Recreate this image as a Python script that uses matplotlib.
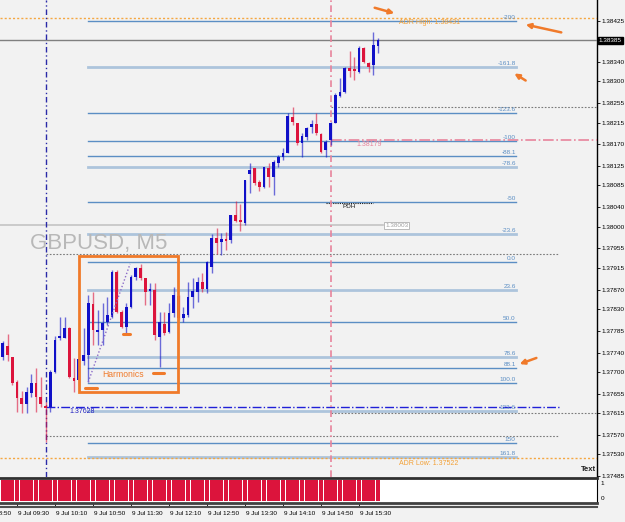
import numpy as np
import matplotlib.pyplot as plt
from matplotlib.patches import Rectangle, FancyArrowPatch
from matplotlib.lines import Line2D
from matplotlib.transforms import blended_transform_factory

plt.rcParams['font.family'] = ['Liberation Sans Narrow', 'Liberation Sans', 'DejaVu Sans']

# GBPUSD M5 candles, 9 Jul 09:15 .. 15:50 (bar index 0 = 09:30)
first_bar = -3
opens = [1.37731, 1.37753, 1.37731, 1.37679, 1.37646, 1.37633, 1.37656, 1.37677, 1.37648, 1.37629,
         1.37627, 1.37699, 1.37770, 1.37770, 1.37790, 1.37687, 1.37683, 1.37722, 1.37735, 1.37840,
         1.37782, 1.37786, 1.37803, 1.37813, 1.37906, 1.37823, 1.37792, 1.37834, 1.37896, 1.37914,
         1.37894, 1.37867, 1.37869, 1.37772, 1.37799, 1.37782, 1.37821, 1.37856, 1.37811, 1.37817,
         1.37854, 1.37865, 1.37885, 1.37871, 1.37917, 1.37976, 1.37968, 1.37974, 1.37972, 1.38024,
         1.38014, 1.38007, 1.38109, 1.38121, 1.38092, 1.38082, 1.38121, 1.38102, 1.38131, 1.38144,
         1.38152, 1.38226, 1.38214, 1.38173, 1.38185, 1.38206, 1.38212, 1.38191, 1.38158, 1.38179,
         1.38214, 1.38270, 1.38278, 1.38328, 1.38325, 1.38319, 1.38369, 1.38338, 1.38334, 1.38373]
highs = [1.37764, 1.37778, 1.37731, 1.37683, 1.37660, 1.37669, 1.37695, 1.37708, 1.37689, 1.37637,
         1.37704, 1.37774, 1.37813, 1.37813, 1.37792, 1.37728, 1.37786, 1.37790, 1.37859, 1.37865,
         1.37828, 1.37842, 1.37854, 1.37910, 1.37910, 1.37828, 1.37842, 1.37900, 1.37917, 1.37923,
         1.37894, 1.37883, 1.37883, 1.37823, 1.37823, 1.37842, 1.37875, 1.37859, 1.37834, 1.37885,
         1.37894, 1.37896, 1.37904, 1.37929, 1.37985, 1.37997, 1.37987, 1.37989, 1.38024, 1.38053,
         1.38047, 1.38096, 1.38131, 1.38121, 1.38096, 1.38123, 1.38131, 1.38137, 1.38148, 1.38162,
         1.38235, 1.38247, 1.38214, 1.38193, 1.38206, 1.38220, 1.38235, 1.38193, 1.38179, 1.38216,
         1.38276, 1.38307, 1.38330, 1.38363, 1.38350, 1.38373, 1.38371, 1.38340, 1.38402, 1.38390]
lows = [1.37724, 1.37722, 1.37673, 1.37617, 1.37615, 1.37615, 1.37648, 1.37617, 1.37627, 1.37555,
        1.37617, 1.37697, 1.37766, 1.37770, 1.37687, 1.37658, 1.37673, 1.37714, 1.37679, 1.37755,
        1.37755, 1.37755, 1.37797, 1.37811, 1.37821, 1.37790, 1.37780, 1.37832, 1.37890, 1.37890,
        1.37838, 1.37838, 1.37766, 1.37710, 1.37776, 1.37780, 1.37813, 1.37807, 1.37803, 1.37813,
        1.37832, 1.37844, 1.37865, 1.37863, 1.37904, 1.37943, 1.37941, 1.37952, 1.37966, 1.38009,
        1.37991, 1.38003, 1.38069, 1.38086, 1.38073, 1.38080, 1.38082, 1.38065, 1.38123, 1.38137,
        1.38152, 1.38210, 1.38168, 1.38144, 1.38179, 1.38193, 1.38189, 1.38152, 1.38144, 1.38168,
        1.38214, 1.38268, 1.38276, 1.38309, 1.38303, 1.38317, 1.38338, 1.38319, 1.38313, 1.38359]
closes = [1.37759, 1.37735, 1.37677, 1.37646, 1.37633, 1.37658, 1.37677, 1.37648, 1.37633, 1.37625,
          1.37699, 1.37766, 1.37774, 1.37790, 1.37689, 1.37681, 1.37726, 1.37735, 1.37842, 1.37786,
          1.37786, 1.37801, 1.37817, 1.37906, 1.37823, 1.37792, 1.37834, 1.37896, 1.37914, 1.37894,
          1.37865, 1.37871, 1.37776, 1.37803, 1.37780, 1.37821, 1.37859, 1.37811, 1.37819, 1.37854,
          1.37867, 1.37885, 1.37871, 1.37927, 1.37976, 1.37966, 1.37974, 1.37970, 1.38024, 1.38011,
          1.38009, 1.38096, 1.38117, 1.38090, 1.38082, 1.38123, 1.38102, 1.38133, 1.38144, 1.38152,
          1.38228, 1.38216, 1.38173, 1.38187, 1.38204, 1.38212, 1.38193, 1.38154, 1.38175, 1.38214,
          1.38272, 1.38278, 1.38328, 1.38321, 1.38321, 1.38369, 1.38340, 1.38330, 1.38375, 1.38385]

# bottom indicator histogram (one value per bar)
signal = [1, 1, 1, 1, 1, 1, 1, 1, 1, 1, 1, 1, 1, 1, 1, 1, 1, 1, 1, 1,
          1, 1, 1, 1, 1, 1, 1, 1, 1, 1, 1, 1, 1, 1, 1, 1, 1, 1, 1, 1,
          1, 1, 1, 1, 1, 1, 1, 1, 1, 1, 1, 1, 1, 1, 1, 1, 1, 1, 1, 1,
          1, 1, 1, 1, 1, 1, 1, 1, 1, 1, 1, 1, 1, 1, 1, 1, 1, 1, 1, 1]

time_ticks = [-8, 0, 8, 16, 24, 32, 40, 48, 56, 64, 72]
time_labels = ["9 Jul 08:50", "9 Jul 09:30", "9 Jul 10:10", "9 Jul 10:50", "9 Jul 11:30",
               "9 Jul 12:10", "9 Jul 12:50", "9 Jul 13:30", "9 Jul 14:10", "9 Jul 14:50",
               "9 Jul 15:30"]

price_ticks = [1.38425, 1.38340, 1.38300, 1.38255, 1.38215, 1.38170, 1.38125, 1.38085,
               1.38040, 1.38000, 1.37955, 1.37915, 1.37870, 1.37830, 1.37785, 1.37740,
               1.37700, 1.37655, 1.37615, 1.37570, 1.37530, 1.37485]
last_price = 1.38385

# fibonacci grid
fib_levels = [-200, -161.8, -123.6, -100, -88.1, -78.6, -50, -23.6, 0, 23.6, 50, 78.6,
              88.1, 100, 123.6, 150, 161.8]
fib_labels = ["-200", "-161.8", "-123.6", "-100", "-88.1", "-78.6", "-50", "-23.6", "0.0",
              "23.6", "50.0", "78.6", "88.1", "100.0", "123.6", "150", "161.8"]
fib_light = [-161.8, -78.6, -23.6, 23.6, 78.6, 123.6, 161.8]
fib_zero = 1.37927
fib_hundred = 1.37678

adr_high = 1.38431
adr_low = 1.37522
day_low = 1.37628
pink_level = 1.38179
box_level = 1.38003
pdh = 1.38049
dotted_left = [1.37943, 1.37568]
dotted_right = [1.38247, 1.37615]

W, H = 625, 522
BG = '#f2f2f2'
BLUE = '#1010c8'
RED = '#dc143c'
FIB = '#5b8ec4'
FIB_LIGHT = '#adc4dc'
ORANGE = '#f07a2a'
X0, X1 = -3.58, 122.1

fig = plt.figure(figsize=(W / 100, H / 100), dpi=100, facecolor=BG)
ax = fig.add_axes([0, 45 / H, 597 / W, 477 / H], facecolor=BG)
ax.set_xlim(X0, X1)
ax.set_ylim(1.37483, 1.38468)

x = np.arange(len(opens)) + first_bar
o = np.array(opens)
c = np.array(closes)
cols = np.where(c >= o, BLUE, RED)

# candles
ax.vlines(x, lows, highs, colors=cols, lw=1, alpha=0.6, zorder=4)
bot = np.minimum(o, c)
hgt = np.maximum(np.abs(c - o), 0.000025)
ax.bar(x, hgt, bottom=bot, width=0.62, color=cols, lw=0, zorder=5)

# fibonacci lines
fx0, fx1 = 15, 105
for lev, lab in zip(fib_levels, fib_labels):
    p = fib_zero - lev / 100 * (fib_zero - fib_hundred)
    if lev in fib_light:
        ax.plot([fx0, fx1], [p, p], color=FIB_LIGHT, lw=2, zorder=2)
    else:
        ax.plot([fx0, fx1], [p, p], color=FIB, lw=1, zorder=2)
    ax.text(fx1, p + 0.00002, lab, color=FIB, fontsize=4.6, ha='right', va='bottom', zorder=6)

# ADR lines
ax.axhline(adr_high, color='#f5a742', lw=1, ls=(0, (1.5, 1.5)), zorder=3)
ax.axhline(adr_low, color='#f5a742', lw=1, ls=(0, (1.5, 1.5)), zorder=3)
ax.text(80.5, adr_high - 0.00003, "ADR High: 1.38431", color='#f2a035', fontsize=5, va='top')
ax.text(80.5, adr_low - 0.00003, "ADR Low: 1.37522", color='#f2a035', fontsize=5, va='top')

# bid line
ax.axhline(last_price, color='#808080', lw=1, zorder=3)

# session / level lines
ax.plot([6, 114], [day_low, day_low], color='#2020d8', lw=1, ls='-.', zorder=3)
ax.text(11, day_low - 0.00002, "1.37628", color='#2020c0', fontsize=5, va='top')
for lv in dotted_left:
    ax.plot([6, 114], [lv, lv], color='#7a7a7a', lw=0.8, ls=(0, (1.5, 1.5)), zorder=3)
for lv in dotted_right:
    ax.plot([66, X1], [lv, lv], color='#7a7a7a', lw=0.8, ls=(0, (1.5, 1.5)), zorder=3)
ax.plot([66, X1], [pink_level, pink_level], color='#e8849c', lw=1.2, ls='-.', zorder=3)
ax.text(71.5, pink_level - 0.00003, "1.38179", color='#e8849c', fontsize=5, va='top')
ax.plot([X0, 77], [box_level, box_level], color='#c4c4c4', lw=1.2, zorder=3)
ax.text(77.5, box_level, "1.38003", color='#a0a0a0', fontsize=4.6, va='center',
        bbox=dict(facecolor='white', edgecolor='#b0b0b0', lw=0.6, pad=0.6))
ax.plot([65, 75], [pdh, pdh], color='#202020', lw=0.8, ls=(0, (1, 1)), zorder=3)
ax.text(70, pdh - 0.00002, "PDH", color='#202020', fontsize=4.6, ha='center', va='top')

# vertical session markers
ax.axvline(6, color='#2a2aa8', lw=1, ls=(0, (4, 2, 1, 2)), zorder=3)
ax.axvline(66, color='#e8849c', lw=1.2, ls=(0, (4, 2, 1, 2)), zorder=3)

# harmonics box
ax.add_patch(Rectangle((13.05, 1.37658), 20.85, 0.00281, fill=False, ec=ORANGE, lw=2, zorder=6))
ax.plot([15, 23.8], [1.37679, 1.37923], color='#8a6ac8', lw=1, ls=(0, (1, 1.5)), zorder=6)
ax.text(18, 1.37695, "Harmonics", color=ORANGE, fontsize=6.2, va='center',
        family=['Liberation Sans', 'DejaVu Sans'], zorder=7)
for xa, xb, pm in [(14.4, 16.8, 1.37666), (28.7, 30.9, 1.37697), (22.4, 23.8, 1.37778)]:
    ax.plot([xa, xb], [pm, pm], color=ORANGE, lw=2.2, solid_capstyle='round', zorder=7)

# watermark
fig.text(30 / W, 1 - 249 / H, "GBPUSD, M5", color='#b8b8b8', fontsize=16,
         family=['Liberation Sans', 'DejaVu Sans'], va='baseline')

# price axis on right
for s in ['top', 'left', 'bottom']:
    ax.spines[s].set_visible(False)
ax.spines['right'].set_color('black')
ax.spines['right'].set_linewidth(1)
ax.set_xticks([])
ax.yaxis.tick_right()
ax.set_yticks(price_ticks)
ax.set_yticklabels([f"{p:.5f}" for p in price_ticks])
ax.set_ylim(1.37483, 1.38468)
ax.tick_params(axis='y', labelsize=4.6, length=2, width=0.6, pad=1.5, colors='black')
tr = blended_transform_factory(ax.transAxes, ax.transData)
ax.text(1.003, last_price, f"{last_price:.5f}", transform=tr, color='white', fontsize=4.6,
        va='center', ha='left', bbox=dict(facecolor='black', edgecolor='black', pad=0.8),
        zorder=10, clip_on=False)
ax.text(0.999, 1.37492, "Text", transform=tr, fontsize=5.5, fontweight='bold', ha='right',
        va='bottom', color='#202020')

# orange arrows
def fpx(px, py):
    return (px / W, 1 - py / H)

for tail, head in [((372, 7), (397, 14)), ((564, 33), (523, 24)),
                   ((528, 82), (512, 72)), ((539, 357), (517, 365))]:
    fig.add_artist(FancyArrowPatch(fpx(*tail), fpx(*head), transform=fig.transFigure,
                                   arrowstyle='-|>', mutation_scale=7, color=ORANGE, lw=1.8))

# indicator panel
ind = fig.add_axes([0, 19 / H, 597 / W, 25 / H], facecolor='white')
ind.bar(x, signal, width=0.85, color=RED, lw=0)
ind.spines['left'].set_visible(False)
ind.spines['top'].set_color('#303030')
ind.spines['top'].set_linewidth(2)
ind.spines['bottom'].set_color('#404040')
ind.spines['bottom'].set_linewidth(2)
ind.spines['right'].set_color('black')
ind.set_yticks([])
ind.set_xticks(time_ticks)
ind.set_xticklabels([])
ind.set_xlim(X0, X1)
ind.set_ylim(-0.08, 1.08)
ind.tick_params(axis='x', length=3, width=0.6, direction='out')
trb = blended_transform_factory(ind.transData, ind.transAxes)
for t, lab in zip(time_ticks, time_labels):
    ind.text(t + 0.15, -0.32, lab, transform=trb, fontsize=4.6, ha='left', va='top',
             clip_on=False)
ind.text(1.006, 0.78, "1", transform=ind.transAxes, fontsize=4.6, va='center')
ind.text(1.006, 0.2, "0", transform=ind.transAxes, fontsize=4.6, va='center')
fig.add_artist(Line2D([0, 597 / W], [1 - 506.5 / H] * 2, color='#505050', lw=1.5))

fig.savefig("out.png", dpi=100, facecolor=BG)
